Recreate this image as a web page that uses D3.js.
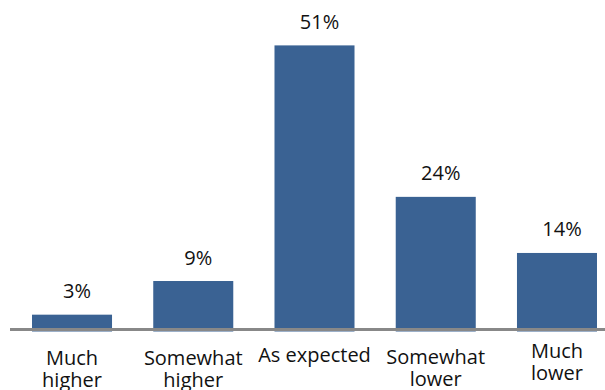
<!DOCTYPE html>
<html><head><meta charset="utf-8">
<script src="https://cdn.jsdelivr.net/npm/d3@7"></script>
<style>html,body{margin:0;padding:0;background:#fff;}svg{display:block;}</style>
</head><body>
<svg id="chart" width="605" height="390"></svg>
<script>
const categories = ["Much higher", "Somewhat higher", "As expected", "Somewhat lower", "Much lower"];
const labelLines = [["Much", "higher"], ["Somewhat", "higher"], ["As expected"], ["Somewhat", "lower"], ["Much", "lower"]];
const values = [3, 9, 51, 24, 14];
const valueLabels = ["3%", "9%", "51%", "24%", "14%"];

const svg = d3.select("#chart");
const font = "'Open Sans', 'Noto Sans', sans-serif";
const x = d3.scaleBand().domain(categories).range([11.4, 617.6]).paddingInner(0.34).paddingOuter(0.17);
const y = d3.scaleLinear().domain([0, 55]).range([331.5, 331.5 - 5.61 * 55]);

svg.selectAll("rect.bar").data(values).join("rect")
  .attr("class", "bar")
  .attr("x", (d, i) => x(categories[i]))
  .attr("width", x.bandwidth())
  .attr("y", d => y(d))
  .attr("height", d => y(0) - y(d))
  .attr("fill", "#3A6293");

svg.selectAll("text.val").data(values).join("text")
  .attr("class", "val")
  .attr("x", (d, i) => x(categories[i]) + x.bandwidth() / 2 + 5)
  .attr("y", d => y(d) - 16.5)
  .attr("text-anchor", "middle")
  .attr("font-family", font).attr("font-size", 20).attr("fill", "#111")
  .text((d, i) => valueLabels[i]);

// axis line
svg.append("line").attr("x1", 10).attr("x2", 605).attr("y1", 329.5).attr("y2", 329.5)
  .attr("stroke", "#888").attr("stroke-width", 3);

const firstBaseline = [365, 365, 362, 364, 358];
const g = svg.selectAll("text.cat").data(categories).join("text")
  .attr("class", "cat")
  .attr("text-anchor", "middle")
  .attr("font-family", font).attr("font-size", 20).attr("fill", "#111");
g.each(function(c, i) {
  const t = d3.select(this);
  labelLines[i].forEach((ln, j) => {
    t.append("tspan").attr("x", x(c) + x.bandwidth() / 2).attr("y", firstBaseline[i] + j * 21.5).text(ln);
  });
});
</script>
</body></html>
